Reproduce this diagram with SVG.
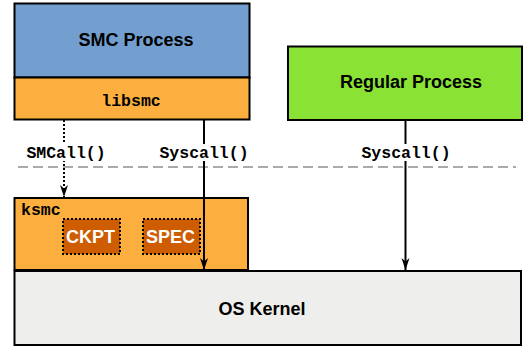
<svg xmlns="http://www.w3.org/2000/svg" width="526" height="349" viewBox="0 0 526 349">
  <defs>
    <marker id="arrow" markerUnits="userSpaceOnUse" markerWidth="14" markerHeight="12" viewBox="-13 -6 14 12" refX="0" refY="0" orient="auto">
      <path d="M0,0 L-12,-4 L-8.5,0 L-12,4 Z" fill="#000"/>
    </marker>
    <style>
      .box { stroke: #000; stroke-width: 2; }
      .title { font-family: "Liberation Sans", Arial, sans-serif; font-weight: bold; font-size: 18px; text-anchor: middle; fill: #000; }
      .mono { font-family: "Liberation Mono", "Courier New", monospace; font-weight: bold; font-size: 16.5px; fill: #000; }
      .sub { fill: #ce5c00; stroke: #000; stroke-width: 2; stroke-dasharray: 2 2; }
      .subtext { font-family: "Liberation Sans", Arial, sans-serif; font-weight: bold; font-size: 18px; text-anchor: middle; fill: #fff; }
      .edge { stroke: #000; stroke-width: 2; fill: none; }
    </style>
  </defs>

  <rect width="526" height="349" fill="#fff"/>

  <!-- user / kernel boundary -->
  <line id="boundary" x1="18" y1="167" x2="516" y2="167" stroke="#aaaaaa" stroke-width="2" stroke-dasharray="10 5"/>

  <g id="smc-process">
    <rect class="box" x="14.5" y="3.5" width="235" height="74" fill="#729fcf"/>
    <text class="title" x="136" y="46">SMC Process</text>
  </g>

  <g id="libsmc">
    <rect class="box" x="14.5" y="77.5" width="235" height="42" fill="#fcaf3e"/>
    <text class="mono" x="131" y="106" text-anchor="middle">libsmc</text>
  </g>

  <g id="regular-process">
    <rect class="box" x="288" y="46.5" width="234" height="73.5" fill="#8ae234"/>
    <text class="title" x="411" y="88">Regular Process</text>
  </g>

  <g id="os-kernel">
    <rect class="box" x="14.5" y="271" width="506.5" height="74" fill="#eeeeec"/>
    <text class="title" x="262" y="315">OS Kernel</text>
  </g>

  <g id="ksmc">
    <rect class="box" x="14.5" y="198" width="233.5" height="72" fill="#fcaf3e"/>
    <text class="mono" x="21" y="215">ksmc</text>
    <g id="ckpt">
      <rect class="sub" x="63" y="219" width="57" height="35"/>
      <text class="subtext" x="90.5" y="243">CKPT</text>
    </g>
    <g id="spec">
      <rect class="sub" x="143" y="219" width="57" height="35"/>
      <text class="subtext" x="170.5" y="243">SPEC</text>
    </g>
  </g>

  <g id="connectors">
    <line class="edge" x1="64" y1="120" x2="64" y2="197" stroke-dasharray="2 2" marker-end="url(#arrow)"/>
    <line class="edge" x1="204" y1="120" x2="204" y2="270" marker-end="url(#arrow)"/>
    <line class="edge" x1="405.5" y1="120" x2="405.5" y2="270" marker-end="url(#arrow)"/>

    <rect x="24" y="144" width="86" height="17" fill="#fff"/>
    <text class="mono" x="66" y="158" text-anchor="middle">SMCall()</text>
    <rect x="156" y="144" width="96" height="17" fill="#fff"/>
    <text class="mono" x="204" y="158" text-anchor="middle">Syscall()</text>
    <rect x="358" y="144" width="96" height="17" fill="#fff"/>
    <text class="mono" x="406" y="158" text-anchor="middle">Syscall()</text>
  </g>
</svg>
